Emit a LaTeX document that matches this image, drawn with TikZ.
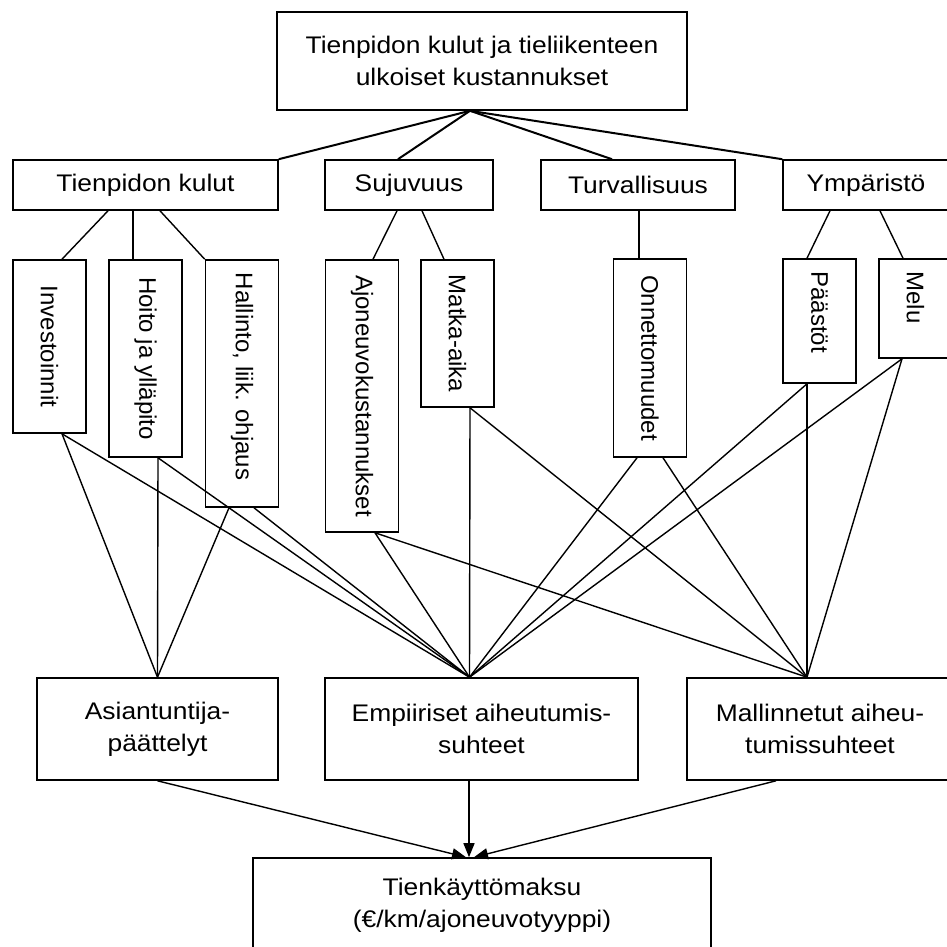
\documentclass[tikz,border=0pt]{standalone}
\usepackage{graphicx}
\usepackage{fontspec}
\setmainfont{Liberation Sans}
\newfontfamily\widefont{Liberation Sans}[FakeStretch=1.1]
\usetikzlibrary{arrows.meta}
\begin{document}
\begin{tikzpicture}[x=1pt,y=-1pt,>={Triangle[length=14pt,width=11pt]},
	box/.style={draw,line width=1.6pt,inner sep=0pt,align=center,font=\widefont\fontsize{24}{32}\selectfont},
	vbox/.style={draw,line width=1.6pt,inner sep=0pt,minimum width=73pt,font=\fontsize{24}{28}\selectfont},
	toplink/.style={line width=2pt},
	link/.style={line width=1.4pt}]
	\useasboundingbox (0,0) rectangle (947,946);
	% ylin laatikko ja paaryhmat
	\node[box,minimum width=410pt,minimum height=98pt] (top) at (482,61) {Tienpidon kulut ja tieliikenteen\\ulkoiset kustannukset};
	\node[box,minimum width=265pt,minimum height=50pt] (tk) at (145.5,185) {Tienpidon kulut};
	\node[box,minimum width=168pt,minimum height=50pt] (suj) at (409,185) {Sujuvuus};
	\node[box,minimum width=194pt,minimum height=50pt] (tur) at (638,185) {Turvallisuus};
	\node[box,minimum width=166pt,minimum height=50pt] (ymp) at (866,185) {Ympäristö};
	% pystylaatikot
	\node[vbox,minimum height=173pt] (inv) at (49.5,346.5) {\rotatebox{-90}{Investoinnit}};
	\node[vbox,minimum height=197pt] (hoi) at (145.5,358.5) {\rotatebox{-90}{Hoito ja ylläpito}};
	\node[vbox,minimum height=247pt] (hal) at (242,383.5) {\rotatebox{-90}{Hallinto, liik. ohjaus\hspace{14pt}}};
	\node[vbox,minimum height=272pt] (ajo) at (362,396) {\rotatebox{-90}{Ajoneuvokustannukset}};
	\node[vbox,minimum height=147pt] (mat) at (457.5,333.5) {\rotatebox{-90}{Matka-aika}};
	\node[vbox,minimum height=198pt] (onn) at (650,358) {\rotatebox{-90}{Onnettomuudet}};
	\node[vbox,minimum height=124pt] (pas) at (819.5,321) {\rotatebox{-90}{Päästöt\hspace{18pt}}};
	\node[vbox,minimum height=99pt] (mel) at (915.5,308.5) {\rotatebox{-90}{Melu\hspace{22pt}}};
	% menetelmat ja tulos
	\node[box,minimum width=241pt,minimum height=102pt] (asi) at (157.5,729) {Asiantuntija-\\päättelyt};
	\node[box,minimum width=313pt,minimum height=102pt] (emp) at (481.5,729) {Empiiriset aiheutumis-\\suhteet};
	\node[box,minimum width=266pt,minimum height=102pt] (mal) at (820,729) {Mallinnetut aiheu-\\tumissuhteet};
	\node[box,minimum width=458pt,minimum height=94pt] (fin) at (482,905) {Tienkäyttömaksu\\(€/km/ajoneuvotyyppi)};

	\draw[toplink] ([xshift=-12pt]top.south) -- (tk.north east);
	\draw[toplink] ([xshift=-12pt]top.south) -- ([xshift=-11pt]suj.north);
	\draw[toplink] ([xshift=-12pt]top.south) -- ([xshift=-26pt]tur.north);
	\draw[toplink] ([xshift=-12pt]top.south) -- (ymp.north west);

	\draw[link] ([xshift=-37.5pt]tk.south) -- ([xshift=12.5pt]inv.north);
	\draw[link] ([xshift=-12.5pt]tk.south) -- ([xshift=-12.5pt]hoi.north);
	\draw[link] ([xshift=14.5pt]tk.south) -- (hal.north west);
	\draw[link] ([xshift=-12pt]suj.south) -- ([xshift=11pt]ajo.north);
	\draw[link] ([xshift=13pt]suj.south) -- ([xshift=-13.5pt]mat.north);
	\draw[link] ([xshift=1pt]tur.south) -- ([xshift=-11pt]onn.north);
	\draw[link] ([xshift=-36pt]ymp.south) -- ([xshift=-12.5pt]pas.north);
	\draw[link] ([xshift=14pt]ymp.south) -- ([xshift=-12.5pt]mel.north);

	% asiantuntijapaattelyt
	\draw[link] ([xshift=12.5pt]inv.south) -- (asi.north);
	\draw[link] ([xshift=12.5pt]hoi.south) -- (asi.north);
	\draw[link] ([xshift=-13pt]hal.south) -- (asi.north);
	% empiiriset
	\draw[link] ([xshift=12.5pt]inv.south) -- ([xshift=-12pt]emp.north);
	\draw[link] ([xshift=12.5pt]hoi.south) -- ([xshift=-12pt]emp.north);
	\draw[link] ([xshift=12pt]hal.south) -- ([xshift=-12pt]emp.north);
	\draw[link] ([xshift=13pt]ajo.south) -- ([xshift=-12pt]emp.north);
	\draw[link] ([xshift=12.5pt]mat.south) -- ([xshift=-12pt]emp.north);
	\draw[link] ([xshift=-13pt]onn.south) -- ([xshift=-12pt]emp.north);
	\draw[link] ([xshift=-12.5pt]pas.south) -- ([xshift=-12pt]emp.north);
	\draw[link] ([xshift=-13.5pt]mel.south) -- ([xshift=-12pt]emp.north);
	% mallinnetut
	\draw[link] ([xshift=13pt]ajo.south) -- ([xshift=-13pt]mal.north);
	\draw[link] ([xshift=12.5pt]mat.south) -- ([xshift=-13pt]mal.north);
	\draw[link] ([xshift=13pt]onn.south) -- ([xshift=-13pt]mal.north);
	\draw[link] ([xshift=-12.5pt]pas.south) -- ([xshift=-13pt]mal.north);
	\draw[link] ([xshift=-13.5pt]mel.south) -- ([xshift=-13pt]mal.north);

	\draw[->,link] (asi.south) -- ([xshift=-16pt]fin.north);
	\draw[->,link] ([xshift=-12.5pt]emp.south) -- ([xshift=-13pt]fin.north);
	\draw[->,link] ([xshift=-44pt]mal.south) -- ([xshift=-8pt]fin.north);
\end{tikzpicture}
\end{document}
